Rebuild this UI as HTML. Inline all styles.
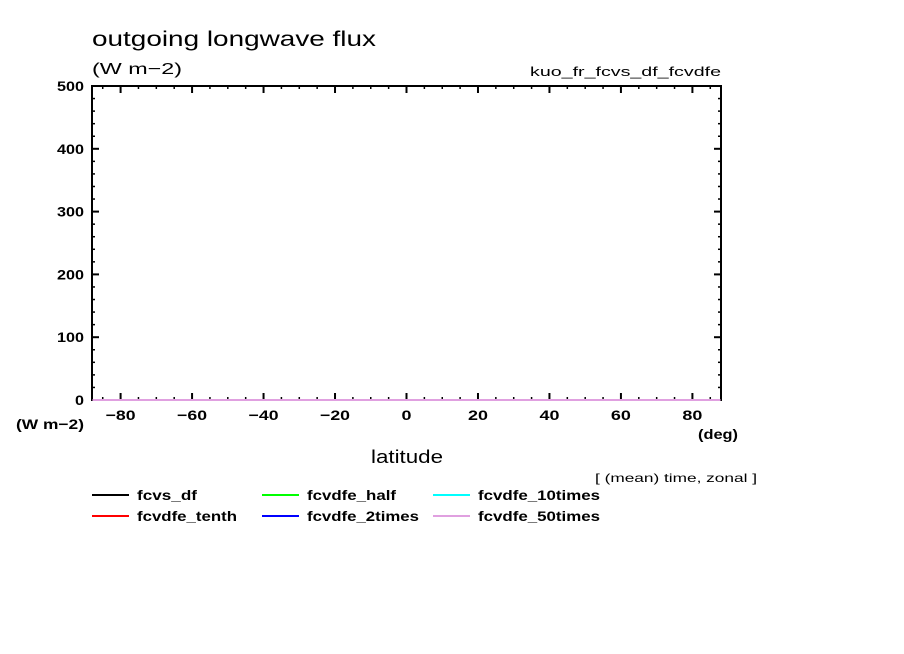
<!DOCTYPE html>
<html><head><meta charset="utf-8"><style>
body{margin:0;background:#fff;}
svg{display:block;font-family:"Liberation Sans",sans-serif;}
</style></head><body>
<svg id="c" width="904" height="654" xmlns="http://www.w3.org/2000/svg">
<text x="92" y="46" font-size="21" textLength="284" lengthAdjust="spacingAndGlyphs">outgoing longwave flux</text>
<text x="92" y="74" font-size="16" textLength="90" lengthAdjust="spacingAndGlyphs">(W m−2)</text>
<text x="530" y="76" font-size="13" textLength="191" lengthAdjust="spacingAndGlyphs">kuo_fr_fcvs_df_fcvdfe</text>
<text x="16" y="429" font-size="14" font-weight="bold" textLength="68" lengthAdjust="spacingAndGlyphs">(W m−2)</text>
<text x="698" y="439" font-size="14" font-weight="bold" textLength="40" lengthAdjust="spacingAndGlyphs">(deg)</text>
<text x="371" y="463" font-size="18" textLength="72" lengthAdjust="spacingAndGlyphs">latitude</text>
<text x="595" y="482" font-size="12" textLength="162" lengthAdjust="spacingAndGlyphs">[ (mean) time, zonal ]</text>
<g id="ticks"></g>
<rect x="92" y="86" width="629" height="314" fill="none" stroke="#000" stroke-width="2"/>
<g id="series"></g>
<g id="legend"></g>
</svg>
<script>
const lats = [-87.86,-80,-70,-60,-50,-40,-30,-20,-10,0,10,20,30,40,50,60,70,80,87.86];
const seriesNames = ["fcvs_df","fcvdfe_tenth","fcvdfe_half","fcvdfe_2times","fcvdfe_10times","fcvdfe_50times"];
const seriesColors = ["#000000","#ff0000","#00ff00","#0000ff","#00ffff","#e0a0e0"];
const s_fcvs_df =        [0,0,0,0,0,0,0,0,0,0,0,0,0,0,0,0,0,0,0];
const s_fcvdfe_tenth =   [0,0,0,0,0,0,0,0,0,0,0,0,0,0,0,0,0,0,0];
const s_fcvdfe_half =    [0,0,0,0,0,0,0,0,0,0,0,0,0,0,0,0,0,0,0];
const s_fcvdfe_2times =  [0,0,0,0,0,0,0,0,0,0,0,0,0,0,0,0,0,0,0];
const s_fcvdfe_10times = [0,0,0,0,0,0,0,0,0,0,0,0,0,0,0,0,0,0,0];
const s_fcvdfe_50times = [0,0,0,0,0,0,0,0,0,0,0,0,0,0,0,0,0,0,0];
const xTicks = [-80,-60,-40,-20,0,20,40,60,80];
const yTicks = [0,100,200,300,400,500];
const allSeries = [s_fcvs_df,s_fcvdfe_tenth,s_fcvdfe_half,s_fcvdfe_2times,s_fcvdfe_10times,s_fcvdfe_50times];
const legendWidths = [60,100,89,112,122,122];

const X0=92,X1=721,Y0=400,Y1=86,XMIN=-88,XMAX=88,YMIN=0,YMAX=500;
const xs=v=>X0+(v-XMIN)/(XMAX-XMIN)*(X1-X0);
const ys=v=>Y0-(v-YMIN)/(YMAX-YMIN)*(Y0-Y1);
const NS="http://www.w3.org/2000/svg";
function mk(t,a,p){const e=document.createElementNS(NS,t);for(const k in a)e.setAttribute(k,a[k]);p.appendChild(e);return e;}
const tg=document.getElementById('ticks');
for(let v=-85;v<=85;v+=5){const maj=v%20===0;const x=xs(v);
 const l1=mk('line',{x1:x,x2:x,y1:Y0,y2:Y0-(maj?7:3),stroke:'#000','stroke-width':maj?2:1.5},tg);
 
 
 const l2=mk('line',{x1:x,x2:x,y1:Y1,y2:Y1+(maj?7:3),stroke:'#000','stroke-width':maj?2:1.5},tg);
 
 }
xTicks.forEach(v=>{const s=v<0?'−'+(-v):String(v);const w=s.length*10;
 const t=mk('text',{x:xs(v)-w/2,y:Y0+20,'font-size':14,'font-weight':'bold',textLength:w,lengthAdjust:'spacingAndGlyphs'},tg);t.textContent=s;
 
 });
for(let v=0;v<=500;v+=20){const maj=v%100===0;const y=ys(v);
 const l1=mk('line',{x1:X0,x2:X0+(maj?7:3),y1:y,y2:y,stroke:'#000','stroke-width':maj?2:1.5},tg);
 
 
 const l2=mk('line',{x1:X1,x2:X1-(maj?7:3),y1:y,y2:y,stroke:'#000','stroke-width':maj?2:1.5},tg);
 
 }
yTicks.forEach(v=>{const s=String(v);const w=s.length*9;
 const t=mk('text',{x:X0-8-w,y:ys(v)+5,'font-size':14,'font-weight':'bold',textLength:w,lengthAdjust:'spacingAndGlyphs'},tg);t.textContent=s;
 
 });
const sg=document.getElementById('series');
allSeries.forEach((s,i)=>{const p=mk('polyline',{points:s.map((v,j)=>xs(lats[j])+','+ys(v)).join(' '),fill:'none',stroke:seriesColors[i],'stroke-width':2},sg);
 
 });
const lg=document.getElementById('legend');
const lpos=[[92,495],[92,516],[262,495],[262,516],[433,495],[433,516]];
seriesNames.forEach((n,i)=>{const [x,y]=lpos[i];
 const g=mk('g',{},lg);
 
 
 mk('line',{x1:x,x2:x+37,y1:y,y2:y,stroke:seriesColors[i],'stroke-width':2},g);
 const t=mk('text',{x:x+45,y:y+5,'font-size':14,'font-weight':'bold',textLength:legendWidths[i],lengthAdjust:'spacingAndGlyphs'},g);t.textContent=n;});
</script>
</body></html>
